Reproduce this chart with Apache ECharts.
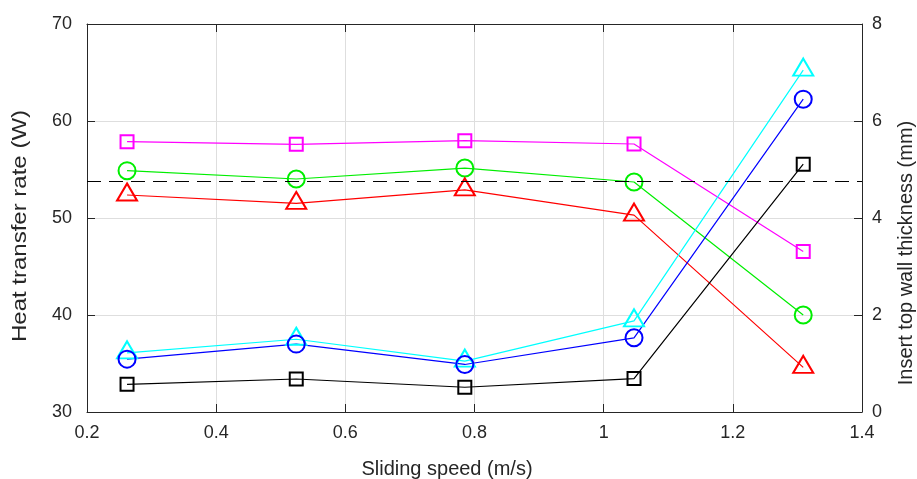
<!DOCTYPE html>
<html>
<head>
<meta charset="utf-8">
<script src="https://cdn.jsdelivr.net/npm/echarts@6/dist/echarts.min.js"></script>
<style>
  html, body { margin: 0; padding: 0; background: #fff; }
  #container { width: 917px; height: 479px; }
</style>
</head>
<body>
<div id="container"></div>
<script>
// sliding speeds (m/s)
let speeds = [0.262, 0.524, 0.785, 1.047, 1.309];

// heat transfer rate (W), left axis
let heatMagenta = [57.87, 57.6, 57.97, 57.63, 46.55];
let heatGreen = [54.88, 54.02, 55.15, 53.71, 40.0];
let heatRed = [52.37, 51.5, 52.9, 50.3, 34.6];

// insert top wall thickness (mm), right axis
let wallCyan = [1.22, 1.5, 1.05, 1.88, 7.05];
let wallBlue = [1.09, 1.4, 0.98, 1.53, 6.45];
let wallBlack = [0.57, 0.68, 0.51, 0.69, 5.11];

// dashed reference thickness (mm)
let refThickness = 4.76;

let xTicks = [0.2, 1.4, 0.2];   // min, max, interval
let leftTicks = [30, 70, 10];
let rightTicks = [0, 8, 2];

let xName = 'Sliding speed (m/s)';
let leftName = 'Heat transfer rate (W)';
let rightName = 'Insert top wall thickness (mm)';

let dom = document.getElementById("container");
let myChart = echarts.init(dom);

const axisColor = '#262626';
const font = 'Liberation Sans, Arial, sans-serif';

function pairs(ys) {
    return speeds.map((x, i) => [x, ys[i]]);
}

function makeSeries(name, ys, color, symbol, size, yIdx) {
    let s = {
        name: name,
        type: 'line',
        yAxisIndex: yIdx,
        data: pairs(ys),
        symbol: symbol,
        symbolSize: size,
        showAllSymbol: true,
        lineStyle: { color: color, width: 1.2 },
        itemStyle: { color: 'rgba(0,0,0,0)', borderColor: color, borderWidth: 2 },
        emphasis: { disabled: true },
        z: 3
    };
    // matlab puts the triangle's centroid on the point
    if (symbol === 'triangle') s.symbolOffset = [0, -3];
    return s;
}

let series = [
    makeSeries('magenta', heatMagenta, '#ff00ff', 'rect', 13, 0),
    makeSeries('green', heatGreen, '#00ee00', 'circle', 17, 0),
    makeSeries('red', heatRed, '#ff0000', 'triangle', [20, 17], 0),
    makeSeries('cyan', wallCyan, '#00ffff', 'triangle', [20, 17], 1),
    makeSeries('blue', wallBlue, '#0000ff', 'circle', 17, 1),
    makeSeries('black', wallBlack, '#000000', 'rect', 13, 1)
];

series[5].markLine = {
    silent: true,
    symbol: 'none',
    label: { show: false },
    lineStyle: { color: '#000', type: [14, 8], width: 1.2 },
    data: [{ yAxis: refThickness }]
};

function nameText(text, x, y, rot, sx) {
    return {
        type: 'text',
        x: x, y: y,
        rotation: rot,
        scaleX: sx,
        silent: true,
        style: {
            text: text,
            font: '20px ' + font,
            fill: axisColor,
            align: 'center',
            verticalAlign: 'middle'
        }
    };
}

let option = {
    animation: false,
    textStyle: { fontFamily: font },
    grid: { left: 87, right: 55, top: 24, bottom: 67, containLabel: false },
    graphic: [
        nameText(xName, 447, 469, 0, 1),
        nameText(leftName, 20, 226, Math.PI / 2, 1.2),
        nameText(rightName, 906, 253, Math.PI / 2, 1)
    ],
    xAxis: [
        {
            type: 'value',
            min: xTicks[0], max: xTicks[1], interval: xTicks[2],
            axisLine: { show: true, onZero: false, lineStyle: { color: axisColor, width: 1 } },
            axisTick: { show: true, inside: true, length: 8, lineStyle: { color: axisColor } },
            axisLabel: { fontSize: 18, color: axisColor, margin: 12, fontFamily: font },
            splitLine: { show: true, lineStyle: { color: '#dedede', width: 1 } }
        },
        {
            type: 'value',
            position: 'top',
            min: xTicks[0], max: xTicks[1], interval: xTicks[2],
            axisLine: { show: true, onZero: false, lineStyle: { color: axisColor, width: 1 } },
            axisTick: { show: true, inside: true, length: 8, lineStyle: { color: axisColor } },
            axisLabel: { show: false },
            splitLine: { show: false }
        }
    ],
    yAxis: [
        {
            type: 'value',
            min: leftTicks[0], max: leftTicks[1], interval: leftTicks[2],
            axisLine: { show: true, onZero: false, lineStyle: { color: axisColor, width: 1 } },
            axisTick: { show: true, inside: true, length: 8, lineStyle: { color: axisColor } },
            axisLabel: { fontSize: 18, color: axisColor, margin: 15, fontFamily: font },
            splitLine: { show: true, lineStyle: { color: '#dedede', width: 1 } }
        },
        {
            type: 'value',
            position: 'right',
            min: rightTicks[0], max: rightTicks[1], interval: rightTicks[2],
            axisLine: { show: true, onZero: false, lineStyle: { color: axisColor, width: 1 } },
            axisTick: { show: true, inside: true, length: 8, lineStyle: { color: axisColor } },
            axisLabel: { fontSize: 18, color: axisColor, margin: 10, fontFamily: font },
            splitLine: { show: false }
        }
    ],
    series: series
};

myChart.setOption(option, true);
</script>
</body>
</html>
